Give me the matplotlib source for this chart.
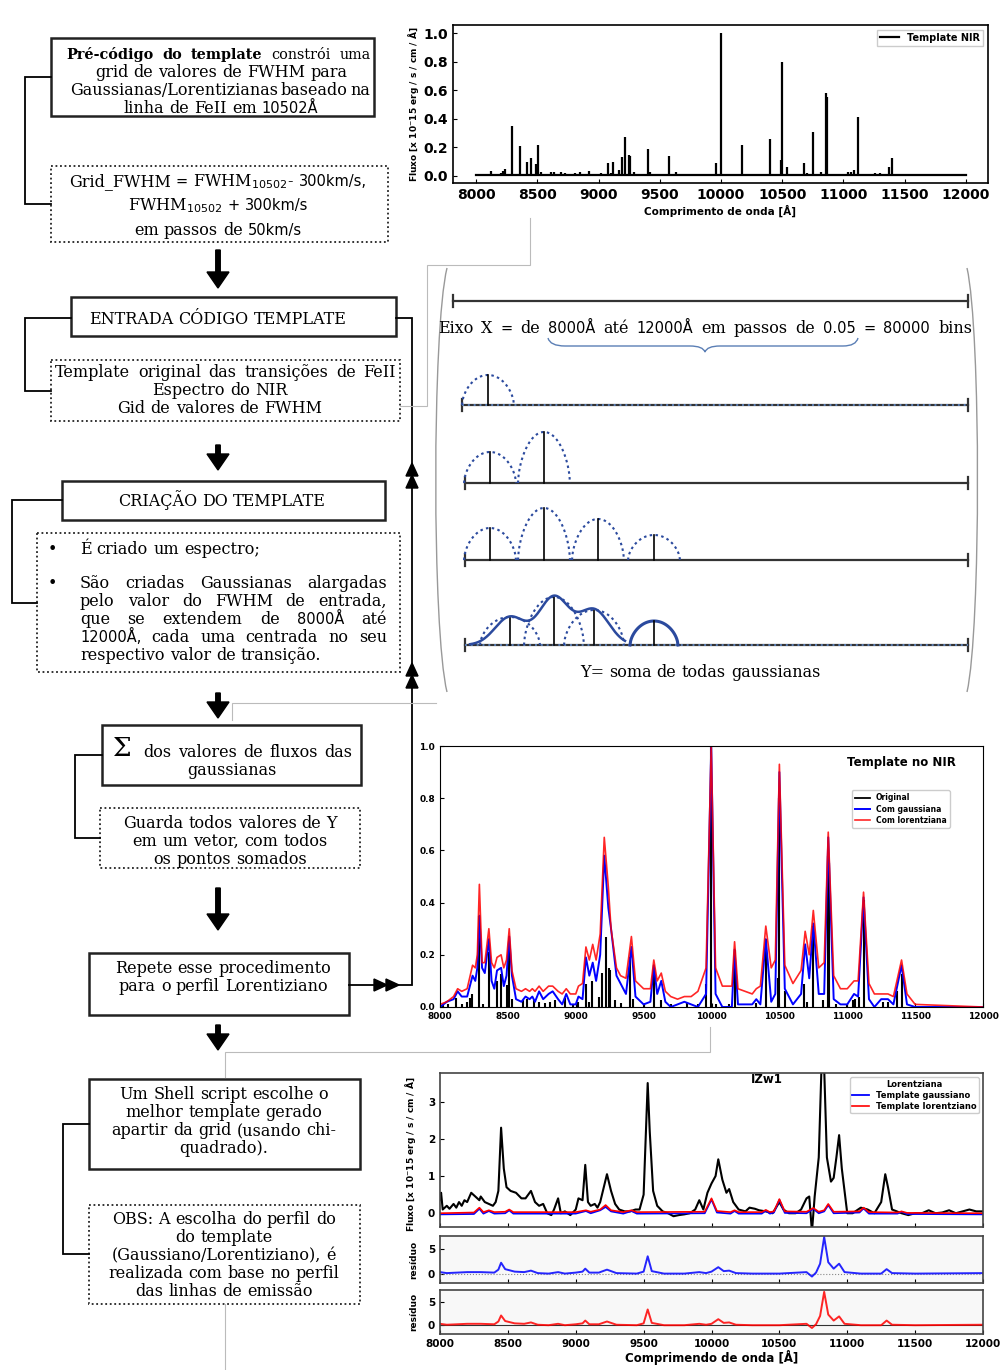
import numpy as np
import matplotlib.pyplot as plt
from matplotlib.patches import Rectangle, Polygon, FancyArrow, PathPatch
from matplotlib.path import Path

# ---------------- dados ----------------
# linhas do template de FeII (comprimento de onda [A], fluxo)
fe_lam = [8020, 8060, 8120, 8160, 8200, 8220, 8235, 8290, 8320, 8360, 8420, 8450, 8490, 8510, 8530,
          8610, 8640, 8690, 8730, 8770, 8810, 8850, 8920, 8980, 9020, 9075, 9100, 9120, 9170, 9195,
          9220, 9245, 9255, 9290, 9330, 9400, 9420, 9500, 9575, 9630, 9700, 9820, 9900, 9960, 9998,
          10030, 10130, 10170, 10330, 10400, 10490, 10500, 10540, 10680, 10700, 10750, 10820, 10855,
          10865, 10920, 11000, 11040, 11060, 11090, 11120, 11260, 11300, 11370, 11400, 11500]
fe_flux = [0.01, 0.01, 0.035, 0.01, 0.02, 0.035, 0.05, 0.35, 0.01, 0.21, 0.10, 0.125, 0.085, 0.22, 0.03,
           0.025, 0.03, 0.025, 0.02, 0.015, 0.02, 0.025, 0.035, 0.01, 0.02, 0.09, 0.02, 0.10, 0.04, 0.13,
           0.27, 0.15, 0.14, 0.025, 0.015, 0.19, 0.03, 0.01, 0.14, 0.025, 0.01, 0.015, 0.01, 0.09, 1.0,
           0.01, 0.01, 0.22, 0.015, 0.26, 0.11, 0.80, 0.06, 0.09, 0.02, 0.31, 0.025, 0.58,
           0.55, 0.01, 0.01, 0.025, 0.03, 0.04, 0.41, 0.02, 0.02, 0.06, 0.125, 0.005]

# template alargado (grade comum)
tpl_lam = [8000, 8050, 8100, 8130, 8160, 8200, 8240, 8260, 8275, 8290, 8310, 8330, 8360, 8380, 8400,
           8420, 8450, 8470, 8490, 8510, 8530, 8560, 8600, 8630, 8660, 8680, 8700, 8730, 8760, 8800,
           8830, 8870, 8900, 8930, 8960, 9000, 9020, 9050, 9075, 9100, 9125, 9150, 9180, 9210, 9240,
           9260, 9300, 9330, 9370, 9410, 9440, 9500, 9550, 9575, 9600, 9630, 9660, 9700, 9750, 9800,
           9850, 9900, 9960, 9998, 10030, 10080, 10150, 10170, 10195, 10300, 10330, 10360, 10400, 10440,
           10470, 10500, 10540, 10600, 10660, 10690, 10720, 10750, 10790, 10830, 10860, 10900, 10950,
           11000, 11050, 11080, 11120, 11160, 11200, 11250, 11300, 11340, 11400, 11440, 11500, 12000]
tpl_gauss = [0.0, 0.02, 0.03, 0.06, 0.04, 0.04, 0.12, 0.10, 0.15, 0.35,
             0.15, 0.13, 0.26, 0.10, 0.07, 0.14, 0.15, 0.08, 0.12, 0.27,
             0.12, 0.03, 0.02, 0.04, 0.03, 0.04, 0.02, 0.06, 0.03, 0.05,
             0.06, 0.03, 0.01, 0.05, 0.01, 0.01, 0.04, 0.03, 0.19, 0.12,
             0.17, 0.10, 0.20, 0.58, 0.38, 0.30, 0.12, 0.09, 0.05, 0.23,
             0.04, 0.01, 0.02, 0.16, 0.05, 0.10, 0.02, 0.0, 0.01, 0.02,
             0.01, 0.0, 0.05, 1.0, 0.05, 0.0, 0.0, 0.22, 0.01, 0.01,
             0.03, 0.01, 0.26, 0.02, 0.05, 0.90, 0.07, 0.01, 0.05, 0.24,
             0.11, 0.32, 0.05, 0.05, 0.65, 0.03, 0.01, 0.01, 0.05, 0.04,
             0.42, 0.03, 0.0, 0.03, 0.03, 0.01, 0.16, 0.01, 0.0, 0.0]
tpl_lorentz = [0.01, 0.02, 0.04, 0.07, 0.06, 0.07, 0.16, 0.15, 0.20, 0.47,
               0.17, 0.17, 0.30, 0.17, 0.15, 0.19, 0.20, 0.15, 0.18, 0.30,
               0.14, 0.07, 0.06, 0.07, 0.06, 0.07, 0.06, 0.08, 0.06, 0.08,
               0.08, 0.06, 0.05, 0.07, 0.05, 0.05, 0.08, 0.09, 0.23, 0.18,
               0.24, 0.18, 0.28, 0.65, 0.46, 0.30, 0.15, 0.12, 0.11, 0.27,
               0.10, 0.07, 0.07, 0.18, 0.10, 0.13, 0.06, 0.04, 0.03, 0.04,
               0.04, 0.06, 0.15, 1.0, 0.15, 0.08, 0.08, 0.25, 0.07, 0.05,
               0.07, 0.08, 0.31, 0.15, 0.18, 0.93, 0.16, 0.09, 0.14, 0.29,
               0.20, 0.37, 0.15, 0.17, 0.67, 0.12, 0.07, 0.07, 0.10, 0.10,
               0.44, 0.09, 0.05, 0.05, 0.05, 0.04, 0.18, 0.05, 0.01, 0.0]

# espectro IZw1
iz_lam = [8000, 8008, 8020, 8050, 8070, 8100, 8120, 8140, 8160, 8180, 8200, 8230, 8260, 8290, 8300,
          8330, 8360, 8390, 8410, 8430, 8450, 8470, 8490, 8520, 8560, 8600, 8630, 8670, 8700, 8730,
          8760, 8790, 8820, 8840, 8870, 8890, 8920, 8960, 9000, 9020, 9050, 9070, 9090, 9110, 9140,
          9160, 9180, 9200, 9230, 9260, 9290, 9320, 9360, 9400, 9440, 9470, 9500, 9520, 9530, 9545,
          9570, 9600, 9640, 9680, 9720, 9760, 9800, 9840, 9880, 9910, 9940, 9970, 10000, 10030, 10050,
          10080, 10110, 10130, 10160, 10200, 10250, 10280, 10320, 10350, 10400, 10450, 10500, 10530,
          10570, 10620, 10660, 10700, 10720, 10740, 10760, 10790, 10810, 10830, 10850, 10880, 10900,
          10920, 10940, 10960, 10990, 11000, 11040, 11100, 11150, 11200, 11250, 11280, 11300, 11330,
          11400, 11450, 11500, 11550, 11600, 11650, 11700, 11750, 11800, 11850, 11900, 11950, 12000]
iz_flux = [0.35, 0.55, 0.1, 0.2, 0.12, 0.25, 0.15, 0.3, 0.2, 0.35, 0.3, 0.55, 0.45, 0.35, 0.45,
           0.3, 0.25, 0.2, 0.3, 0.6, 2.3, 1.2, 0.7, 0.6, 0.55, 0.4, 0.4, 0.6, 0.3, 0.2,
           0.25, 0.0, -0.05, 0.1, 0.4, 0.0, 0.05, -0.05, 0.1, 0.4, 0.35, 1.3, 0.3, 0.2, 0.25,
           0.15, 0.3, 0.6, 1.05, 0.6, 0.25, 0.1, 0.05, 0.05, 0.1, 0.1, 0.5, 2.5, 3.5, 2.2,
           0.6, 0.2, 0.05, 0.0, -0.08, -0.05, -0.03, 0.0, 0.1, 0.35, 0.1, 0.55, 0.8, 1.0, 1.45,
           0.9, 0.55, 0.65, 0.3, 0.1, 0.05, 0.15, 0.12, 0.08, 0.05, 0.0, 0.3, 0.1,
           0.0, 0.0, 0.1, 0.4, 0.45, -0.5, 0.45, 1.5, 3.9, 3.9, 1.5, 0.85, 0.95,
           1.5, 2.1, 1.2, 0.3, 0.0, 0.0, 0.15, 0.1, 0.0, 0.3, 1.05, 0.7, 0.1,
           0.0, -0.05, 0.0, 0.0, 0.08, 0.0, 0.02, 0.08, 0.0, 0.05, 0.1, 0.05, 0.05]

fit_lam = [8000, 8250, 8290, 8320, 8360, 8400, 8480, 8510, 8540, 9000, 9075, 9110, 9180, 9220, 9260,
           9350, 9410, 9450, 9950, 10000, 10040, 10140, 10170, 10200, 10370, 10400, 10430, 10460,
           10500, 10540, 10700, 10750, 10790, 10830, 10860, 10900, 11090, 11120, 11160, 11370, 11400,
           11440, 12000]
fit_gauss = [-0.03, -0.02, 0.12, -0.01, 0.06, -0.01, 0.0, 0.08, -0.01, -0.01, 0.06, 0.0, 0.08, 0.17,
             0.05, -0.01, 0.06, -0.01, 0.0, 0.37, 0.02, -0.01, 0.06, -0.01, -0.01, 0.07, -0.01, 0.02,
             0.36, 0.01, 0.0, 0.12, 0.0, 0.05, 0.22, 0.0, 0.02, 0.13, -0.01, -0.01, 0.04, -0.02, -0.03]
fit_lorentz = [0.0, 0.02, 0.15, 0.03, 0.08, 0.03, 0.04, 0.1, 0.03, 0.03, 0.08, 0.04, 0.1, 0.22,
               0.08, 0.03, 0.08, 0.03, 0.04, 0.40, 0.06, 0.03, 0.08, 0.03, 0.03, 0.09, 0.03, 0.05,
               0.38, 0.05, 0.04, 0.14, 0.04, 0.08, 0.25, 0.04, 0.05, 0.15, 0.03, 0.02, 0.05, 0.01, 0.0]

res_lam = [8000, 8050, 8200, 8300, 8400, 8430, 8450, 8480, 8550, 8620, 8670, 8720, 8800, 8870, 8920,
           9000, 9050, 9070, 9100, 9170, 9230, 9300, 9450, 9500, 9530, 9560, 9650, 9800, 9910, 9960,
           10000, 10050, 10090, 10130, 10180, 10300, 10500, 10700, 10740, 10770, 10800, 10830, 10860,
           10900, 10940, 10980, 11100, 11250, 11290, 11330, 11500, 12000]
res_gauss = [0.3, 0.1, 0.3, 0.3, 0.2, 0.8, 2.2, 0.9, 0.4, 0.3, 0.6, 0.1, 0.0, 0.3, 0.0,
             0.2, 0.4, 1.0, 0.2, 0.2, 0.8, 0.1, 0.0, 0.4, 3.5, 0.5, 0.0, 0.0, 0.3, 0.1,
             0.4, 1.3, 0.5, 0.6, 0.1, 0.0, 0.0, 0.3, -0.6, 0.2, 2.0, 7.4, 2.3,
             1.0, 2.0, 0.3, 0.0, 0.0, 0.9, 0.1, 0.0, 0.1]
res_lorentz = [0.3, 0.1, 0.3, 0.3, 0.2, 0.8, 2.1, 0.9, 0.4, 0.3, 0.6, 0.1, 0.0, 0.3, 0.0,
               0.2, 0.4, 1.0, 0.2, 0.2, 0.8, 0.1, 0.0, 0.4, 3.4, 0.5, 0.0, 0.0, 0.3, 0.1,
               0.3, 1.3, 0.5, 0.6, 0.1, 0.0, 0.0, 0.3, -0.6, 0.2, 2.0, 7.2, 2.3,
               1.0, 1.9, 0.3, 0.0, 0.0, 1.0, 0.1, 0.0, 0.1]

# esquema das gaussianas (posicoes e alturas dos picos em cada linha do esquema)
row_base = [405, 483, 560, 645]
row_start = [462, 465, 465, 465]
row_peaks = [[488], [490, 544], [490, 544, 598, 654], [510, 554, 594, 654]]
row_heights = [[30], [31, 51], [32, 52, 41, 25], [28, 48, 35, 24]]

W, H = 1002, 1370
fig = plt.figure(figsize=(W / 100, H / 100), dpi=100)
bg = fig.add_axes([0, 0, 1, 1])
bg.set_xlim(0, W)
bg.set_ylim(H, 0)
bg.axis('off')
rend = fig.canvas.get_renderer()

FONTS = {'r': dict(family='DejaVu Serif', size=11.5),
         'b': dict(family='DejaVu Serif', size=11.5, weight='bold'),
         's': dict(family='DejaVu Sans', size=10.5)}


def tok(w):
    if w.startswith('*'):
        return w[1:], 'b'
    if w.startswith('#'):
        return w[1:], 's'
    return w, 'r'


def font(st, scale):
    f = dict(FONTS[st])
    f['size'] = f['size'] * scale
    return f


def wid(t, f):
    tt = bg.text(0, 0, t, **f)
    w = tt.get_window_extent(rend).width
    tt.remove()
    return w


SPACE = wid('a a', FONTS['r']) - wid('aa', FONTS['r'])


def line(s, y, cx=None, x0=None, x1=None, mode='center', scale=1.0):
    toks = [tok(w) for w in s.split(' ')]
    fs = [font(st, scale) for _, st in toks]
    ws = [wid(t, f) for (t, _), f in zip(toks, fs)]
    if mode == 'justify' and len(toks) > 1:
        gap = (x1 - x0 - sum(ws)) / (len(toks) - 1)
        x = x0
    else:
        gap = SPACE * scale
        tot = sum(ws) + gap * (len(toks) - 1)
        x = cx - tot / 2 if mode == 'center' else x0
    for (t, _), f, w in zip(toks, fs, ws):
        bg.text(x, y, t, ha='left', va='baseline', **f)
        x += w + gap


def box(x0, y0, x1, y1, dotted=False):
    if dotted:
        bg.add_patch(Rectangle((x0, y0), x1 - x0, y1 - y0, fill=False, lw=1.3,
                               ls=(0, (1, 1.5)), ec='#222222'))
    else:
        bg.add_patch(Rectangle((x0, y0), x1 - x0, y1 - y0, fill=False, lw=1.8, ec='#222222'))


def poly(xs, ys, **kw):
    bg.plot(xs, ys, solid_joinstyle='miter', **kw)


def down_arrow(x, y0, y1):
    bg.add_patch(FancyArrow(x, y0, 0, y1 - y0, width=4.5, head_width=22, head_length=16,
                            length_includes_head=True, color='black'))


K = dict(color='black', lw=1.3)
G = dict(color='#bbbbbb', lw=0.8)

# ---------------- fluxograma ----------------
box(51, 38, 374, 116)
line('*Pré-código *do *template constrói uma', 59, x0=66, x1=371, mode='justify', scale=0.9)
line('grid de valores de FWHM para', 77, cx=221)
line('Gaussianas/Lorentizianas baseado na', 95, x0=70, x1=370, mode='justify')
line('linha de FeII em #10502Å', 113, cx=221)

box(51, 166, 388, 242, dotted=True)
line('Grid_FWHM #= FWHM$_{10502}$- #300km/s,', 186, cx=218)
line('FWHM$_{10502}$ #+ #300km/s', 210, cx=218)
line('em passos de #50km/s', 235, cx=218)
poly([51, 25, 25, 51], [77, 77, 204, 204], **K)

down_arrow(218, 250, 288)

box(71, 297, 396, 336)
line('ENTRADA CÓDIGO TEMPLATE', 324, cx=218)
box(51, 360, 400, 421, dotted=True)
line('Template original das transições de FeII', 377, x0=55, x1=396, mode='justify')
line('Espectro do NIR', 395, cx=220)
line('Gid de valores de FWHM', 413, cx=220)
poly([71, 25, 25, 51], [318, 318, 391, 391], **K)

down_arrow(218, 445, 470)

box(62, 481, 385, 520)
line('CRIAÇÃO DO TEMPLATE', 506, cx=222)
box(37, 533, 400, 672, dotted=True)
bg.text(52, 554, '•', ha='center', va='baseline', **FONTS['r'])
bg.text(52, 588, '•', ha='center', va='baseline', **FONTS['r'])
line('É criado um espectro;', 554, x0=80, mode='left')
line('São criadas Gaussianas alargadas', 588, x0=80, x1=387, mode='justify')
line('pelo valor do FWHM de entrada,', 606, x0=80, x1=387, mode='justify')
line('que se extendem de #8000Å até', 624, x0=80, x1=387, mode='justify')
line('#12000Å, cada uma centrada no seu', 642, x0=80, x1=387, mode='justify')
line('respectivo valor de transição.', 660, x0=80, mode='left')
poly([62, 12, 12, 37], [500, 500, 603, 603], **K)

down_arrow(218, 693, 718)

box(102, 725, 361, 785)
bg.text(122, 748, 'Σ', ha='center', va='center', family='DejaVu Serif', size=19)
line('dos valores de fluxos das', 757, x0=143, x1=352, mode='justify')
line('gaussianas', 775, cx=232)
box(100, 808, 360, 868, dotted=True)
line('Guarda todos valores de Y', 828, cx=230)
line('em um vetor, com todos', 846, cx=230)
line('os pontos somados', 864, cx=230)
poly([102, 75, 75, 100], [755, 755, 838, 838], **K)

down_arrow(218, 888, 930)

box(89, 953, 349, 1015)
line('Repete esse procedimento', 973, cx=223)
line('para o perfil Lorentiziano', 991, cx=223)

down_arrow(218, 1025, 1050)

box(89, 1079, 360, 1169)
line('Um Shell script escolhe o', 1099, cx=224)
line('melhor template gerado', 1117, cx=224)
line('apartir da grid (usando chi-', 1135, cx=224)
line('quadrado).', 1153, cx=224)
box(89, 1205, 360, 1304, dotted=True)
line('OBS: A escolha do perfil do', 1224, cx=224)
line('do template', 1242, cx=224)
line('(Gaussiano/Lorentiziano), é', 1260, cx=224)
line('realizada com base no perfil', 1278, cx=224)
line('das linhas de emissão', 1296, cx=224)
poly([89, 63, 63, 89], [1124, 1124, 1254, 1254], **K)

# laco de retorno
poly([396, 412, 412, 349], [318, 318, 985, 985], **K)
for tip in (463, 475, 663, 675):
    bg.add_patch(Polygon([(412, tip), (406, tip + 13), (418, tip + 13)], color='black'))
for tip in (387, 399):
    bg.add_patch(Polygon([(tip, 985), (tip - 13, 979), (tip - 13, 991)], color='black'))

# conectores cinza
poly([400, 427, 427, 530, 530], [406, 406, 265, 265, 218], **G)
poly([232, 232, 436], [720, 703, 703], **G)
poly([225, 225, 710, 710], [1077, 1052, 1052, 1027], **G)
poly([225, 225], [1304, 1370], **G)

# ---------------- esquema das gaussianas ----------------
lp = Path([(447, 268), (432, 330), (432, 630), (447, 692)], [1, 4, 4, 4])
rp = Path([(967, 268), (981, 330), (981, 630), (967, 692)], [1, 4, 4, 4])
bg.add_patch(PathPatch(lp, fill=False, ec='#999999', lw=1))
bg.add_patch(PathPatch(rp, fill=False, ec='#999999', lw=1))
poly([453, 968], [301, 301], color='#333333', lw=1.6)
poly([453, 453], [295, 307], color='#333333', lw=1.6)
poly([968, 968], [295, 307], color='#333333', lw=1.6)
line('Eixo X #= de #8000Å até #12000Å em passos de #0.05 #= #80000 bins', 333,
     x0=438, x1=972, mode='justify')
brace = Path([(548, 338), (550, 346), (565, 346), (690, 346), (703, 346), (705, 352),
              (707, 346), (720, 346), (843, 346), (856, 346), (858, 338)],
             [1, 3, 3, 2, 3, 3, 3, 3, 2, 3, 3])
bg.add_patch(PathPatch(brace, fill=False, ec='#5b7fb5', lw=1))

blue = '#2b4a9e'
for i, (yb, x0) in enumerate(zip(row_base, row_start)):
    poly([x0, 968], [yb, yb], color='#333333', lw=1.6)
    poly([x0, x0], [yb - 6, yb + 6], color='#333333', lw=1.6)
    poly([968, 968], [yb - 6, yb + 6], color='#333333', lw=1.6)
    if i in (0, 3):
        poly([x0, 968], [yb, yb], color='#5b7fb5', lw=1.4, ls=(0, (1, 2)))
    for j, (xc, h) in enumerate(zip(row_peaks[i], row_heights[i])):
        last = (i == 3 and j == 3)
        w = 24 if last else (30 if i == 3 else 26)
        dx = np.linspace(-w, w, 80)
        arc = h * (1 - (dx / w) ** 2) ** 0.6
        if last:
            bg.plot(xc + dx, yb - arc, color=blue, lw=2.2)
        else:
            bg.plot(xc + dx, yb - arc, color=blue, lw=1.5, ls=(0, (1.2, 1.6)))
        poly([xc, xc], [yb, yb - h], color='black', lw=1.2)

xs = np.linspace(470, 625, 300)
env = np.zeros_like(xs)
for xc, h in zip(row_peaks[3][:3], row_heights[3][:3]):
    env += h * np.exp(-(xs - xc) ** 2 / (2 * 15.0 ** 2))
bg.plot(xs, row_base[3] - env, color=blue, lw=1.8)
line('Y= soma de todas gaussianas', 677, cx=700)


# ---------------- graficos ----------------
def px_axes(x0, y0, x1, y1):
    return fig.add_axes([x0 / W, 1 - y1 / H, (x1 - x0) / W, (y1 - y0) / H])


def bold_ticks(ax, size):
    ax.tick_params(direction='in', length=3, labelsize=size)
    for lab in ax.get_xticklabels() + ax.get_yticklabels():
        lab.set_fontweight('bold')


ylab = 'Fluxo [x 10$^{-}$15 erg / s / cm / Å]'
xt = [8000, 8500, 9000, 9500, 10000, 10500, 11000, 11500, 12000]

# grafico 1 - template original
a1 = px_axes(453, 25, 988, 183)
a1.vlines(fe_lam, 0, fe_flux, color='black', lw=1.6)
a1.plot([8000, 12000], [0.005, 0.005], color='black', lw=1.6, label='Template NIR')
a1.set_xlim(7812, 12180)
a1.set_ylim(-0.049, 1.056)
a1.set_xticks(xt)
a1.set_yticks([0.0, 0.2, 0.4, 0.6, 0.8, 1.0])
bold_ticks(a1, 10)
a1.set_ylabel(ylab, fontsize=6.5, fontweight='bold', labelpad=2)
a1.set_xlabel('Comprimento de onda [Å]', fontsize=7.5, fontweight='bold', labelpad=2)
a1.legend(loc='upper right', prop={'size': 7, 'weight': 'bold'}, handlelength=2,
          borderpad=0.3, fancybox=False, framealpha=1)
for s in a1.spines.values():
    s.set_linewidth(1.2)

# grafico 2 - template alargado
a2 = px_axes(440, 746, 983, 1007)
a2.vlines(fe_lam, 0, fe_flux, color='black', lw=1.5)
a2.plot([], [], color='black', lw=1.3, label='Original')
a2.plot(tpl_lam, tpl_gauss, color='blue', lw=1.4, label='Com gaussiana')
a2.plot(tpl_lam, tpl_lorentz, color='red', lw=1.2, alpha=0.85, label='Com lorentziana')
a2.set_xlim(8000, 12000)
a2.set_ylim(0, 1.0)
a2.set_xticks(xt)
a2.set_yticks([0.0, 0.2, 0.4, 0.6, 0.8, 1.0])
bold_ticks(a2, 6.5)
a2.text(0.85, 0.935, 'Template no NIR', transform=a2.transAxes, ha='center', va='center',
        fontsize=8.5, fontweight='bold')
a2.legend(loc='upper left', bbox_to_anchor=(0.751, 0.845), prop={'size': 5.5, 'weight': 'bold'},
          handlelength=2, borderpad=0.4, labelspacing=0.3, framealpha=1)

# grafico 3 - IZw1 e residuos
a3 = px_axes(440, 1073, 983, 1227)
a3.plot(iz_lam, iz_flux, color='black', lw=1.5)
a3.plot(fit_lam, fit_gauss, color='blue', lw=1.3, label='Template gaussiano')
a3.plot(fit_lam, fit_lorentz, color='red', lw=1.2, label='Template lorentziano')
a3.set_xlim(8000, 12000)
a3.set_ylim(-0.37, 3.77)
a3.set_xticks(xt)
a3.set_xticklabels([])
a3.set_yticks([0, 1, 2, 3])
bold_ticks(a3, 7.5)
a3.set_ylabel(ylab, fontsize=6.5, fontweight='bold', labelpad=3)
a3.yaxis.set_label_coords(-0.04, 0.47)
a3.text(0.602, 0.955, 'IZw1', transform=a3.transAxes, ha='center', va='center',
        fontsize=8.5, fontweight='bold')
a3.legend(loc='upper right', title='Lorentziana', prop={'size': 6, 'weight': 'bold'},
          title_fontproperties={'size': 6, 'weight': 'bold'}, handlelength=2,
          borderpad=0.3, labelspacing=0.25, framealpha=1)

a4 = px_axes(440, 1236, 983, 1283)
a4.set_facecolor('#f8f8f8')
a4.axhline(0, color='#888888', lw=0.8, ls=':')
a4.plot(res_lam, res_gauss, color='blue', lw=1.4, alpha=0.85)
a4.set_xlim(8000, 12000)
a4.set_ylim(-1.9, 7.6)
a4.set_xticks(xt)
a4.set_xticklabels([])
a4.set_yticks([0, 5])
bold_ticks(a4, 7.5)
a4.set_ylabel('resíduo', fontsize=6.5, fontweight='bold', labelpad=2)
a4.yaxis.set_label_coords(-0.04, 0.5)

a5 = px_axes(440, 1290, 983, 1334)
a5.set_facecolor('#f8f8f8')
a5.axhline(0, color='#333333', lw=0.8)
a5.plot(res_lam, res_lorentz, color='red', lw=1.4, alpha=0.85)
a5.set_xlim(8000, 12000)
a5.set_ylim(-1.9, 7.6)
a5.set_xticks(xt)
a5.set_yticks([0, 5])
bold_ticks(a5, 7.5)
a5.set_ylabel('resíduo', fontsize=6.5, fontweight='bold', labelpad=2)
a5.yaxis.set_label_coords(-0.04, 0.5)
a5.set_xlabel('Comprimendo de onda [Å]', fontsize=8.5, fontweight='bold', labelpad=1)

for ax in (a3, a4, a5):
    for s in ax.spines.values():
        s.set_linewidth(1.2)
        s.set_edgecolor('#444444')

fig.savefig('out.png', dpi=100)
